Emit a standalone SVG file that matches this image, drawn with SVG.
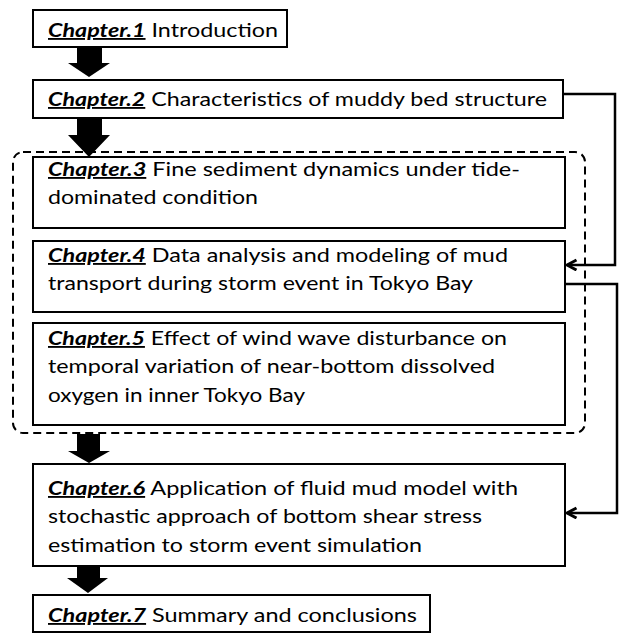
<svg xmlns="http://www.w3.org/2000/svg" width="619" height="634" viewBox="0 0 619 634">
<style>
.box{fill:#fff;stroke:#000;stroke-width:2}
.t{font-family:Lato,"Open Sans",sans-serif;font-size:18.5px;fill:#000}
.c{font-weight:bold;font-style:italic;text-decoration:underline}
.blk{fill:#000}
.conn{fill:none;stroke:#000;stroke-width:2.5}
.dash{fill:none;stroke:#000;stroke-width:2;stroke-dasharray:8 5}
</style>
<defs>
<marker id="ah" markerWidth="14" markerHeight="14" refX="10.5" refY="6" orient="auto" markerUnits="userSpaceOnUse">
<path d="M1,1 L10.5,6 L1,11" fill="none" stroke="#000" stroke-width="3"/>
</marker>
</defs>
<rect class="dash" x="13" y="152" width="572" height="281" rx="10"/>
<g id="n1"><rect class="box" x="33" y="10" width="254" height="37"/>
<text class="t" x="48" y="37" textLength="230" lengthAdjust="spacingAndGlyphs"><tspan class="c">Chapter.1</tspan> Introduction</text></g>
<g id="n2"><rect class="box" x="33" y="80" width="530" height="38"/>
<text class="t" x="48" y="106" textLength="499" lengthAdjust="spacingAndGlyphs"><tspan class="c">Chapter.2</tspan> Characteristics of muddy bed structure</text></g>
<g id="n3"><rect class="box" x="33" y="157" width="532" height="71"/>
<text class="t" x="48" y="176" textLength="472" lengthAdjust="spacingAndGlyphs"><tspan class="c">Chapter.3</tspan> Fine sediment dynamics under tide-</text>
<text class="t" x="48" y="204" textLength="210" lengthAdjust="spacingAndGlyphs">dominated condition</text></g>
<g id="n4"><rect class="box" x="33" y="241" width="532" height="71"/>
<text class="t" x="48" y="262" textLength="460" lengthAdjust="spacingAndGlyphs"><tspan class="c">Chapter.4</tspan> Data analysis and modeling of mud</text>
<text class="t" x="48" y="290" textLength="425" lengthAdjust="spacingAndGlyphs">transport during storm event in Tokyo Bay</text></g>
<g id="n5"><rect class="box" x="33" y="323" width="532" height="102"/>
<text class="t" x="48" y="345" textLength="459" lengthAdjust="spacingAndGlyphs"><tspan class="c">Chapter.5</tspan> Effect of wind wave disturbance on</text>
<text class="t" x="48" y="373" textLength="447" lengthAdjust="spacingAndGlyphs">temporal variation of near-bottom dissolved</text>
<text class="t" x="48" y="402" textLength="257" lengthAdjust="spacingAndGlyphs">oxygen in inner Tokyo Bay</text></g>
<g id="n6"><rect class="box" x="33" y="464" width="532" height="102"/>
<text class="t" x="48" y="495" textLength="470" lengthAdjust="spacingAndGlyphs"><tspan class="c">Chapter.6</tspan> Application of fluid mud model with</text>
<text class="t" x="48" y="523" textLength="434" lengthAdjust="spacingAndGlyphs">stochastic approach of bottom shear stress</text>
<text class="t" x="48" y="552" textLength="374" lengthAdjust="spacingAndGlyphs">estimation to storm event simulation</text></g>
<g id="n7"><rect class="box" x="33" y="595" width="397" height="37"/>
<text class="t" x="48" y="622" textLength="369" lengthAdjust="spacingAndGlyphs"><tspan class="c">Chapter.7</tspan> Summary and conclusions</text></g>
<g id="connectors">
<polygon class="blk" points="77,47 102,47 102,63 110,63 89,77 68,63 77,63"/>
<polygon class="blk" points="77,118 102,118 102,135 110,135 89,157 68,135 77,135"/>
<polygon class="blk" points="77,434 100,434 100,451 110,451 89,463 68,451 77,451"/>
<polygon class="blk" points="77,566 100,566 100,578 108,578 88,593 67,578 77,578"/>
<path class="conn" d="M564,94 H615 V265 H567" marker-end="url(#ah)"/>
<path class="conn" d="M566,284 H617 V513 H567" marker-end="url(#ah)"/>
</g>
</svg>
